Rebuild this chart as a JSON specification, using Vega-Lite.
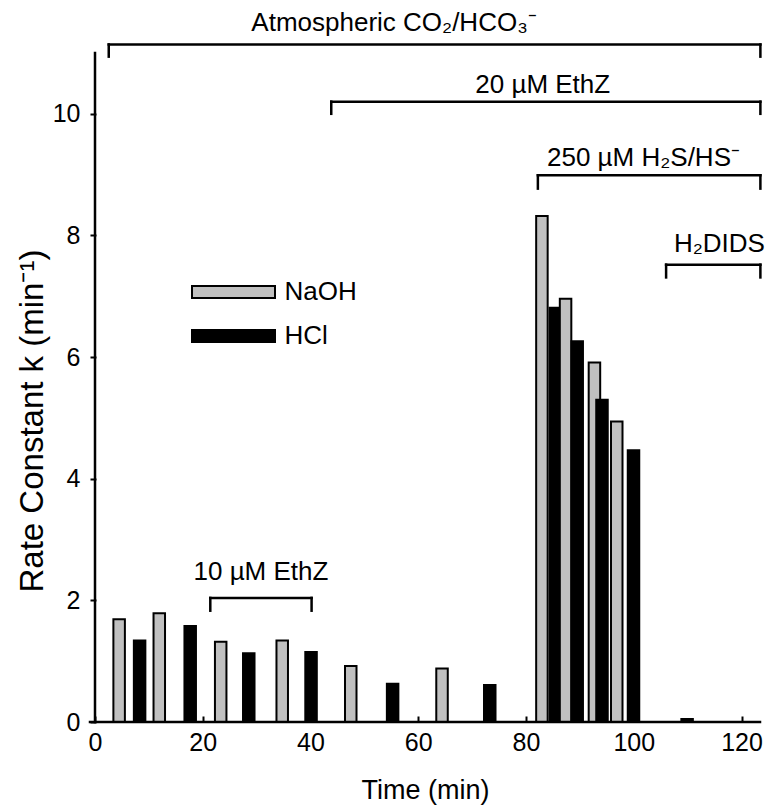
{
  "$schema": "https://vega.github.io/schema/vega-lite/v6.json",
  "width": 670,
  "height": 669,
  "autosize": "none",
  "padding": {"left": 90, "top": 53, "right": 16, "bottom": 88},
  "background": "white",
  "config": {
    "view": {"stroke": null},
    "font": "Liberation Sans",
    "axis": {
      "grid": false,
      "tickColor": "black",
      "tickWidth": 2,
      "labelColor": "black",
      "titleColor": "black",
      "labelFont": "Liberation Sans",
      "titleFont": "Liberation Sans",
      "labelFontSize": 25,
      "titleFontWeight": "normal"
    }
  },
  "datasets": {
    "bars": [
      {"time": 4.48, "k": 1.69, "series": "NaOH"},
      {"time": 8.28, "k": 1.34, "series": "HCl"},
      {"time": 11.93, "k": 1.79, "series": "NaOH"},
      {"time": 17.67, "k": 1.58, "series": "HCl"},
      {"time": 23.33, "k": 1.32, "series": "NaOH"},
      {"time": 28.54, "k": 1.13, "series": "HCl"},
      {"time": 34.75, "k": 1.34, "series": "NaOH"},
      {"time": 40.1, "k": 1.15, "series": "HCl"},
      {"time": 47.47, "k": 0.92, "series": "NaOH"},
      {"time": 55.24, "k": 0.63, "series": "HCl"},
      {"time": 64.41, "k": 0.88, "series": "NaOH"},
      {"time": 73.27, "k": 0.61, "series": "HCl"},
      {"time": 82.95, "k": 8.32, "series": "NaOH"},
      {"time": 85.45, "k": 6.81, "series": "HCl"},
      {"time": 87.34, "k": 6.96, "series": "NaOH"},
      {"time": 89.5, "k": 6.26, "series": "HCl"},
      {"time": 92.7, "k": 5.91, "series": "NaOH"},
      {"time": 94.1, "k": 5.3, "series": "HCl"},
      {"time": 96.84, "k": 4.94, "series": "NaOH"},
      {"time": 99.95, "k": 4.47, "series": "HCl"},
      {"time": 109.9, "k": 0.05, "series": "HCl"}
    ],
    "brackets": [
      {"label": "Atmospheric CO₂/HCO₃⁻", "start": 2.55, "end": 123.5, "level": 11.14, "tip": 10.94, "labelX": 55.5, "labelY": 11.5},
      {"label": "20 µM EthZ", "start": 43.85, "end": 123.5, "level": 10.2, "tip": 10.0, "labelX": 83.1, "labelY": 10.47},
      {"label": "250 µM H₂S/HS⁻", "start": 82.2, "end": 123.5, "level": 8.99, "tip": 8.77, "labelX": 101.8, "labelY": 9.28},
      {"label": "H₂DIDS", "start": 106.0, "end": 123.5, "level": 7.52, "tip": 7.31, "labelX": 115.9, "labelY": 7.86},
      {"label": "10 µM EthZ", "start": 21.4, "end": 40.2, "level": 2.04, "tip": 1.83, "labelX": 30.8, "labelY": 2.46}
    ],
    "origin": [{"t": 0, "k": 0}]
  },
  "layer": [
    {
      "data": {"name": "bars"},
      "mark": {"type": "bar", "width": 11.5, "stroke": "black", "strokeWidth": 2},
      "encoding": {
        "x": {
          "field": "time", "type": "quantitative",
          "scale": {"domain": [0, 122.5], "nice": false, "zero": false},
          "axis": {"orient": "bottom", "values": [0, 20, 40, 60, 80, 100, 120], "offset": -6, "domain": false, "ticks": true, "tickSize": 6, "labelPadding": 8, "title": "Time (min)", "titleFontSize": 27, "titleBaseline": "alphabetic", "titleY": 82}
        },
        "y": {
          "field": "k", "type": "quantitative",
          "scale": {"domain": [0, 11], "nice": false},
          "axis": {"orient": "left", "values": [0, 2, 4, 6, 8, 10], "format": "d", "offset": -6, "domain": false, "ticks": true, "tickSize": 6, "labelPadding": 10, "title": "Rate Constant k (min⁻¹)", "titleFontSize": 33, "titleBaseline": "alphabetic", "titleAngle": 270, "titleAlign": "left", "titleX": -54, "titleY": 539}
        },
        "fill": {
          "field": "series", "type": "nominal",
          "scale": {"domain": ["NaOH", "HCl"], "range": ["#c0c0c0", "#000000"]},
          "legend": {
            "title": null,
            "orient": "none",
            "legendX": 130.5,
            "legendY": 226,
            "padding": 0,
            "symbolType": "M-8.3,-1.2H8.3V1.2H-8.3Z",
            "symbolSize": 100,
            "symbolStrokeColor": "black",
            "symbolStrokeWidth": 2,
            "labelFont": "Liberation Sans",
            "labelFontSize": 26,
            "labelColor": "black",
            "labelOffset": 38,
            "rowPadding": 18
          }
        }
      }
    },
    {
      "data": {"name": "origin"},
      "mark": {"type": "rule", "stroke": "black", "strokeWidth": 2.5, "strokeCap": "square"},
      "encoding": {"y": {"field": "k", "type": "quantitative"}}
    },
    {
      "data": {"name": "origin"},
      "mark": {"type": "rule", "stroke": "black", "strokeWidth": 2.5, "strokeCap": "square"},
      "encoding": {"x": {"field": "t", "type": "quantitative"}}
    },
    {
      "data": {"name": "brackets"},
      "mark": {"type": "rule", "stroke": "black", "strokeWidth": 2.5, "strokeCap": "square", "clip": false},
      "encoding": {
        "x": {"field": "start", "type": "quantitative"},
        "x2": {"field": "end"},
        "y": {"field": "level", "type": "quantitative"}
      }
    },
    {
      "data": {"name": "brackets"},
      "mark": {"type": "rule", "stroke": "black", "strokeWidth": 2.5, "strokeCap": "square", "clip": false},
      "encoding": {
        "x": {"field": "start", "type": "quantitative"},
        "y": {"field": "level", "type": "quantitative"},
        "y2": {"field": "tip"}
      }
    },
    {
      "data": {"name": "brackets"},
      "mark": {"type": "rule", "stroke": "black", "strokeWidth": 2.5, "strokeCap": "square", "clip": false},
      "encoding": {
        "x": {"field": "end", "type": "quantitative"},
        "y": {"field": "level", "type": "quantitative"},
        "y2": {"field": "tip"}
      }
    },
    {
      "data": {"name": "brackets"},
      "mark": {"type": "text", "font": "Liberation Sans", "fontSize": 26, "align": "center", "baseline": "middle", "color": "black", "clip": false},
      "encoding": {
        "x": {"field": "labelX", "type": "quantitative"},
        "y": {"field": "labelY", "type": "quantitative"},
        "text": {"field": "label"}
      }
    }
  ]
}
